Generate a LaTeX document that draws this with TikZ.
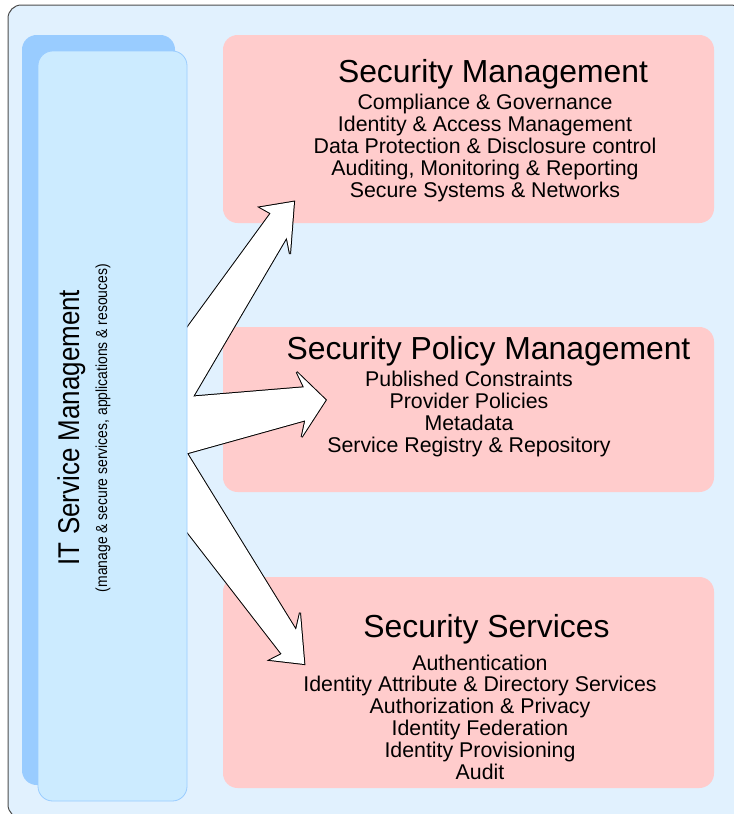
\documentclass[tikz,border=0pt]{standalone}
\usepackage{fontspec}
\setmainfont{Liberation Sans}
\usepackage{graphicx}

\pgfdeclarelayer{front}
\pgfsetlayers{main,front}

\definecolor{framefill}{HTML}{E1F1FE}
\definecolor{framedraw}{HTML}{4D4D4D}
\definecolor{panelfill}{HTML}{CCEBFF}
\definecolor{paneldark}{HTML}{99CCFF}
\definecolor{areafill}{HTML}{FFCCCC}

\tikzstyle{frame}=[draw=framedraw,
                   line width=0.75pt,
                   fill=framefill,
                   rounded corners=10pt]
\tikzstyle{area}=[rectangle,
                  rounded corners=11pt,
                  fill=areafill,
                  inner sep=0pt,
                  minimum width=368.25pt]
\tikzstyle{panel}=[rectangle,
                   rounded corners=11pt,
                   fill=panelfill,
                   draw=paneldark,
                   line width=0.6pt,
                   inner sep=0pt,
                   outer sep=0pt,
                   minimum width=111.75pt,
                   minimum height=562.5pt]
\tikzstyle{panelshadow}=[rectangle,
                         rounded corners=11pt,
                         fill=paneldark,
                         inner sep=0pt,
                         minimum width=114.75pt,
                         minimum height=562.5pt]
\tikzstyle{heading}=[anchor=base,
                     inner sep=0pt,
                     font=\fontsize{23.9pt}{26pt}\selectfont]
% lists are placed by the baseline of their last line
\tikzstyle{items}=[anchor=base,
                   align=center,
                   inner sep=0pt,
                   font=\fontsize{16pt}{16.35pt}\selectfont]
\tikzstyle{linkedge}=[draw=black,
                      line width=1.5pt,
                      miter limit=4]
\tikzstyle{linkfill}=[fill=white]

\begin{document}
\begin{tikzpicture}[x=0.75pt,y=-0.75pt]
  \useasboundingbox (0,0) rectangle (734,814);

  % The frame runs off the page on the right and at the bottom:
  \draw[frame] (8,5) rectangle (744,818);

  % The three security areas, one under the other:
  \node (secmgmt) [area, minimum height=141pt] at (468.5,129) {};
  \node (policy) [area, minimum height=123.75pt] at (468.5,409.5) {};
  \node (services) [area, minimum height=158.25pt] at (468.5,682.5) {};

  \node (secmgmt title) [heading] at (493,82) {Security Management};
  \node (secmgmt list) [items] at (485,197) {Compliance \& Governance\\
      Identity \& Access Management\\
      Data Protection \& Disclosure control\\
      Auditing, Monitoring \& Reporting\\
      Secure Systems \& Networks};

  \node (policy title) [heading] at (488.5,359) {Security Policy Management};
  \node (policy list) [items] at (469,452) {Published Constraints\\
      Provider Policies\\
      Metadata\\
      Service Registry \& Repository};

  \node (services title) [heading] at (486.5,637) {Security Services};
  \node (services list) [items] at (480,779) {Authentication\\
      Identity Attribute \& Directory Services\\
      Authorization \& Privacy\\
      Identity Federation\\
      Identity Provisioning\\
      Audit};

  % The service management panel sits in front of the arrows:
  \begin{pgfonlayer}{front}
    \node (itsm shadow) [panelshadow] at (98.5,410) {};
    \node (itsm) [panel] at (112.5,426) {};
    \node (itsm title) [rotate=90, anchor=base, inner sep=0pt,
        font=\fontsize{22.5pt}{24pt}\selectfont] at (79,427.5)
        {\scalebox{0.865}[1]{IT Service Management}};
    \node (itsm note) [rotate=90, anchor=base, inner sep=0pt,
        font=\fontsize{12pt}{14pt}\selectfont] at (107,428)
        {\scalebox{0.87}[1]{(manage \& secure services, applications \& resouces)}};
  \end{pgfonlayer}

  % Block arrows from the panel to the areas
  \path[save path=\toplink] (itsm.east |- 0,328) -- (270.7,213.3) -- (260,207.3)
      -- (294,201.7) -- (290,254) -- (286.7,237.3) -- (itsm.east |- 0,407) -- cycle;
  \path[save path=\midlink] (itsm.east |- 0,397) -- (304,387.3) -- (296.7,372)
      -- (325.7,400) -- (301.7,437) -- (305.3,420.3) -- (itsm.east |- 0,453.3) -- cycle;
  \path[save path=\lowlink] (itsm.east |- 0,453.3) -- (296,630) -- (300,612.7)
      -- (304.3,664) -- (270,660) -- (281.7,654) -- (itsm.east |- 0,531.7) -- cycle;

  % stroke all of them first, then fill, so only the outer outline stays
  \foreach \link in {\toplink,\midlink,\lowlink}
    \path[linkedge, use path=\link];
  \foreach \link in {\toplink,\midlink,\lowlink}
    \path[linkfill, use path=\link];
\end{tikzpicture}
\end{document}
